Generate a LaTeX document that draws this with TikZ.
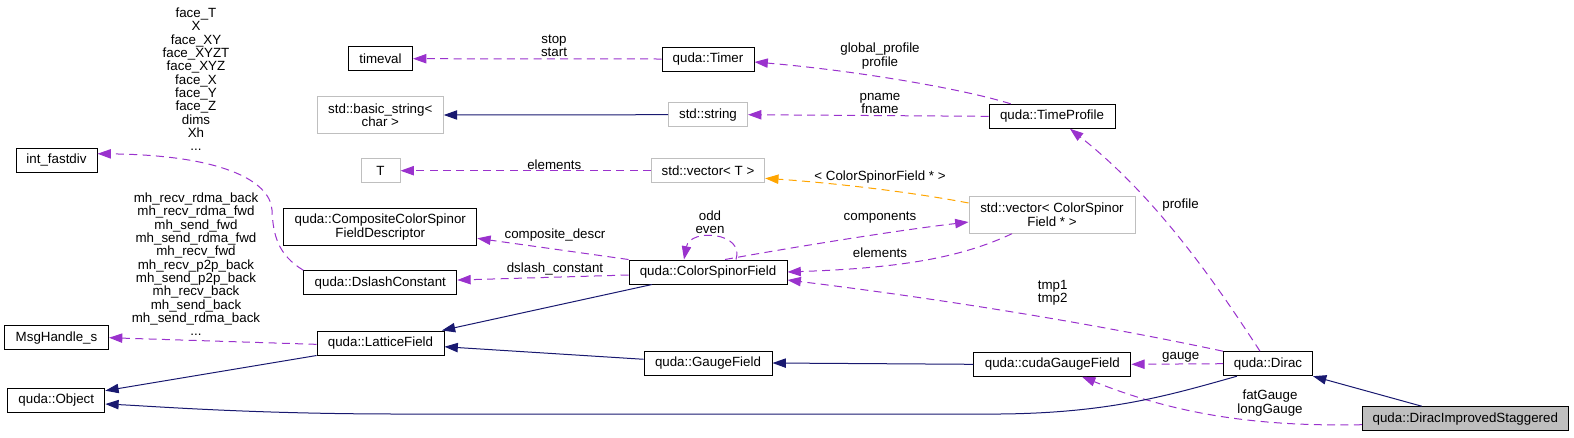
\documentclass[tikz,border=0pt]{standalone}
\usepackage{fontspec}
\setmainfont{Liberation Sans}
\usetikzlibrary{arrows.meta}
\definecolor{dep}{HTML}{9A32CD}
\definecolor{inhc}{HTML}{191970}
\definecolor{tmplc}{HTML}{FFA500}
\definecolor{gbord}{HTML}{BFBFBF}
\definecolor{sel}{HTML}{BFBFBF}
\tikzset{
  txt/.style={font=\fontsize{10pt}{10pt}\selectfont},
  box/.style={txt, draw=black, line width=0.75pt, fill=white, inner sep=0pt, align=center, minimum height=18pt},
  gbox/.style={box, draw=gbord},
  lbl/.style={txt, inner sep=0pt, align=center},
  tip/.style={-{Triangle[length=10pt,width=7pt]}},
  depe/.style={tip, draw=dep, line width=0.75pt, dash pattern=on 6pt off 4pt},
  inhe/.style={tip, draw=inhc, line width=0.75pt},
  tmple/.style={tip, draw=tmplc, line width=0.75pt, dash pattern=on 6pt off 4pt},
}
\begin{document}
\begin{tikzpicture}[x=0.75pt,y=-0.75pt]
\path[use as bounding box] (0,0) rectangle (1574,437);
% nodes
\node[box, minimum width=48pt] (timeval) at (380.5,58.7) {timeval};
\node[box, minimum width=69pt] (timer) at (708,59) {quda::Timer};
\node[gbox, minimum width=94.5pt, minimum height=27.5pt] (bstr) at (380.3,115) {std::basic\_string<\\char >};
\node[gbox, minimum width=59.25pt] (sstr) at (708,114.7) {std::string};
\node[gbox, minimum width=29.25pt] (T) at (380.5,170.7) {T};
\node[gbox, minimum width=85pt] (vecT) at (708,170.7) {std::vector< T >};
\node[box, minimum width=144.75pt, minimum height=27.75pt] (ccsfd) at (380.3,227) {quda::CompositeColorSpinor\\FieldDescriptor};
\node[box, minimum width=114.75pt] (dslash) at (380.3,282.7) {quda::DslashConstant};
\node[box, minimum width=118.5pt] (csf) at (708,272) {quda::ColorSpinorField};
\node[box, minimum width=95.25pt] (lf) at (380.5,343) {quda::LatticeField};
\node[box, minimum width=96pt] (gf) at (708,363) {quda::GaugeField};
\node[box, minimum width=60.75pt] (ifd) at (56.5,160) {int\_fastdiv};
\node[box, minimum width=78pt] (msg) at (56.5,337.7) {MsgHandle\_s};
\node[box, minimum width=72.75pt] (obj) at (56.3,400.3) {quda::Object};
\node[box, minimum width=94.5pt] (tprof) at (1052,116.3) {quda::TimeProfile};
\node[gbox, minimum width=124.5pt, minimum height=27.75pt] (veccsf) at (1052,214.7) {std::vector< ColorSpinor\\Field * >};
\node[box, minimum width=117.75pt] (cgf) at (1052.3,364.3) {quda::cudaGaugeField};
\node[box, minimum width=66.75pt] (dirac) at (1268,363.7) {quda::Dirac};
\node[box, fill=sel, minimum width=154.5pt] (dis) at (1465.3,418.7) {quda::DiracImprovedStaggered};
% labels
\node[lbl] (l1) at (554,45.7) {stop\\start};
\node[lbl] (l2) at (880,56.2) {global\_profile\\profile};
\node[lbl] (l3) at (880,103.2) {pname\\fname};
\node[lbl] (l4) at (554.3,164.7) {elements};
\node[lbl] (l5) at (880,176.7) {< ColorSpinorField * >};
\node[lbl] (l6) at (880,217.3) {components};
\node[lbl] (l7) at (880,252.3) {elements};
\node[lbl] (l8) at (555,234.7) {composite\_descr};
\node[lbl] (l9) at (555,269) {dslash\_constant};
\node[lbl] (l10) at (710,222.3) {odd\\even};
\node[lbl] (l11) at (1052.7,292.5) {tmp1\\tmp2};
\node[lbl] (l12) at (1180.7,357.5) {gauge};
\node[lbl] (l13) at (1270,403) {fatGauge\\longGauge};
\node[lbl] (l14) at (1180.5,205) {profile};
\node[lbl] (l15) at (196,79.2) {face\_T\\X\\face\_XY\\face\_XYZT\\face\_XYZ\\face\_X\\face\_Y\\face\_Z\\dims\\Xh\\...};
\node[lbl] (l16) at (196,264.3) {mh\_recv\_rdma\_back\\mh\_recv\_rdma\_fwd\\mh\_send\_fwd\\mh\_send\_rdma\_fwd\\mh\_recv\_fwd\\mh\_recv\_p2p\_back\\mh\_send\_p2p\_back\\mh\_recv\_back\\mh\_send\_back\\mh\_send\_rdma\_back\\...};
% edges
\draw[depe] (timer.west) -- (timeval.east);
\draw[depe] ([xshift=-31pt]tprof.north) .. controls (960,88) and (850,70) .. ([yshift=-2.25pt]timer.east);
\draw[inhe] (sstr.west) -- (bstr.east);
\draw[depe] (tprof.west) -- (sstr.east);
\draw[depe] (vecT.west) -- (T.east);
\draw[tmple] ([yshift=8.8pt]veccsf.west) .. controls (900,190) and (820,182) .. ([yshift=-5.7pt]vecT.east);
\draw[depe] (csf.north west) -- ([yshift=-8.5pt]ccsfd.east);
\draw[depe] ([yshift=-2.25pt]csf.west) -- ([yshift=2pt]dslash.east);
\draw[depe] ([xshift=21pt]csf.north) .. controls (745,232) and (690,228) .. ([xshift=-18pt]csf.north);
\draw[depe] ([xshift=12.75pt]csf.north) .. controls (800,246) and (900,230) .. ([yshift=-5.5pt]veccsf.west);
\draw[depe] ([xshift=-30pt]veccsf.south) .. controls (960,258) and (900,268) .. (csf.east);
\draw[depe] (dirac.north west) .. controls (1100,325) and (950,300) .. ([yshift=-6pt]csf.east);
\draw[depe] ([xshift=-6pt]dirac.north) .. controls (1220,290) and (1160,200) .. ([xshift=13.5pt]tprof.south);
\draw[depe] (dirac.west) -- (cgf.east);
\draw[depe] ([yshift=-4.5pt]dis.west) .. controls (1250,427) and (1170,412) .. ([xshift=22.3pt]cgf.south);
\draw[inhe] ([xshift=-32.7pt]dis.north) -- (dirac.south east);
\draw[inhe] (cgf.west) -- (gf.east);
\draw[inhe] ([yshift=2.8pt]gf.west) -- ([yshift=-2.8pt]lf.east);
\draw[inhe] ([xshift=-42pt]csf.south) -- ([xshift=-2pt]lf.north east);
\draw[depe] (dslash.north west) .. controls (278,255) and (273,235) .. (272,210) .. controls (270,180) and (220,155) .. ([yshift=4.7pt]ifd.east);
\draw[depe] ([yshift=-1pt]lf.west) -- (msg.east);
\draw[inhe] (lf.south west) -- ([yshift=7.2pt]obj.east);
\draw[inhe] ([xshift=-23.3pt]dirac.south) .. controls (1170,395) and (1110,413) .. (1000,414) -- (400,414) .. controls (250,414) and (150,406) .. ([yshift=-2.8pt]obj.east);
\end{tikzpicture}
\end{document}
